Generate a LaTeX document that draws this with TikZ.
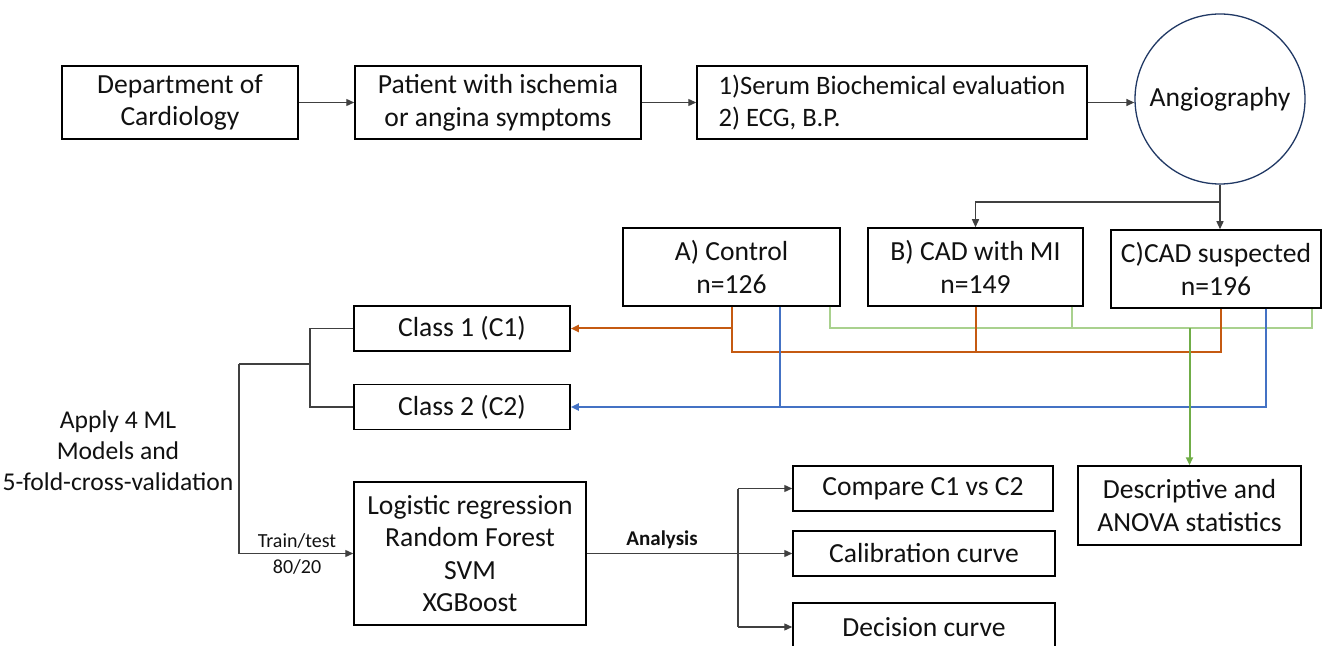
\documentclass[tikz,border=0pt]{standalone}
\usepackage{fontspec}
\setmainfont{Carlito}
\usetikzlibrary{calc,arrows.meta}
\definecolor{corg}{HTML}{C55A11}
\definecolor{cblu}{HTML}{4472C4}
\definecolor{clgr}{HTML}{A9D18E}
\definecolor{cdgr}{HTML}{70AD47}
\definecolor{cnav}{HTML}{203864}
\definecolor{cgry}{HTML}{404040}
\definecolor{ctxt}{HTML}{111111}
\begin{document}
\begin{tikzpicture}[x=0.5pt,y=-0.5pt,
  box/.style={draw=black,line width=0.75pt,rectangle,inner sep=0pt,align=center,text=ctxt,font=\fontsize{13.8}{16.3}\selectfont},
  txt/.style={inner sep=0pt,align=center,text=ctxt,font=\fontsize{12.8}{15.5}\selectfont},
  small/.style={inner sep=0pt,text=ctxt,font=\fontsize{10}{12}\selectfont},
  conn/.style={draw=cgry,line width=0.65pt},
  tip/.style={-{Triangle[length=4pt,width=3.5pt]}},
  oline/.style={draw=corg,line width=1pt},
  bline/.style={draw=cblu,line width=1pt},
  gline/.style={draw=clgr,line width=1pt},
  dgline/.style={draw=cdgr,line width=1pt}]
\useasboundingbox (0,0) rectangle (1322,646);
% top row
\node[box,minimum width=118pt,minimum height=36.5pt] (b1) at (180,102.5) {Department of\\Cardiology};
\node[box,minimum width=143pt,minimum height=36.5pt] (b2) at (498,102.5) {Patient with ischemia\\or angina symptoms};
\node[box,minimum width=195pt,minimum height=36.5pt,align=left,font=\fontsize{13.3}{16.3}\selectfont] (b3) at (892,102.5) {1)Serum Biochemical evaluation\\2) ECG, B.P.};
\node[circle,draw=cnav,line width=0.65pt,minimum size=85pt,inner sep=0pt,text=ctxt,font=\fontsize{13.8}{16}\selectfont] (ang) at (1220,99) {Angiography};
% groups
\node[box,minimum width=108.5pt,minimum height=39pt] (bA) at (731.5,267) {A) Control\\n=126};
\node[box,minimum width=107.5pt,minimum height=39pt] (bB) at (975.5,267) {B) CAD with MI\\n=149};
\node[box,minimum width=105pt,minimum height=39pt] (bC) at (1216,269) {C)CAD suspected\\n=196};
% classes
\node[box,minimum width=108pt,minimum height=22.5pt] (c1) at (462,328.5) {Class 1 (C1)};
\node[box,minimum width=108pt,minimum height=22.5pt] (c2) at (462,407) {Class 2 (C2)};
\node[box,minimum width=116pt,minimum height=71.5pt] (lr) at (470,553.5) {Logistic regression\\Random Forest\\SVM\\XGBoost};
\node[box,minimum width=130pt,minimum height=22.5pt] (comp) at (923,488.5) {Compare C1 vs C2};
\node[box,minimum width=131pt,minimum height=22.5pt] (cal) at (924,553.5) {Calibration curve};
\node[box,minimum width=131pt,minimum height=24pt] (dec) at (924,627) {Decision curve};
\node[box,minimum width=111.5pt,minimum height=39.5pt] (desc) at (1189.5,505.5) {Descriptive and\\ANOVA statistics};
\node[txt] (ml) at (118,451) {Apply 4 ML\\Models and\\5-fold-cross-validation};
% top connectors
\draw[conn,tip] (b1) -- (b2);
\draw[conn,tip] (b2) -- (b3);
\draw[conn,tip] (b3.east) -- (b3.east -| ang.west);
\coordinate (j) at (1220,202);
\draw[conn] (ang.south) -- (j);
\draw[conn,tip] (j) -| (bB.north);
\draw[conn,tip] (j) -- (j |- bC.north);
% coloured lines
\coordinate (yo) at (0,352);
\coordinate (oC) at ($(bC.south)+(5,0)$);
\coordinate (aB) at ($(bA.south)+(48.5,0)$);
\coordinate (cB) at ($(bC.south)+(50,0)$);
\coordinate (aG) at ($(bA.south)+(98.5,0)$);
\coordinate (bG) at ($(bB.south)+(96.5,0)$);
\coordinate (cG) at ($(bC.south)+(96,0)$);
\draw[gline] (aG) |- (cG |- c1.east) -- (cG);
\draw[gline] (bG) -- (bG |- c1.east);
\draw[oline] (bA.south) |- (oC |- yo) -- (oC);
\draw[oline] (bB.south) -- (bB.south |- yo);
\draw[oline,tip] (bA.south |- c1.east) -- (c1.east);
\draw[bline] (aB) -- (aB |- c2.east);
\draw[bline,tip] (cB) |- (c2.east);
\draw[dgline,tip] (desc.north |- c1.east) -- (desc.north);
% left bracket
\coordinate (bx) at (310,0);
\coordinate (lx) at (239,364);
\draw[conn] (c1.west) -| (bx |- c2.west) -- (c2.west);
\draw[conn] (bx |- lx) -- (lx);
\draw[conn,tip] (lx) |- (lr.west);
\node[small] (tt) at (297,541) {Train/test};
\node[small] (tr) at (297,567) {80/20};
% analysis
\coordinate (ax) at (738,0);
\draw[conn] (lr.east) -- (ax |- lr.east);
\node[small,font=\fontsize{10.5}{12}\selectfont\bfseries] (an) at (662,540) {Analysis};
\draw[conn] (ax |- comp.west) -- (ax |- dec.west);
\draw[conn,tip] (ax |- comp.west) -- (comp.west);
\draw[conn,tip] (ax |- cal.west) -- (cal.west);
\draw[conn,tip] (ax |- dec.west) -- (dec.west);
\end{tikzpicture}
\end{document}
